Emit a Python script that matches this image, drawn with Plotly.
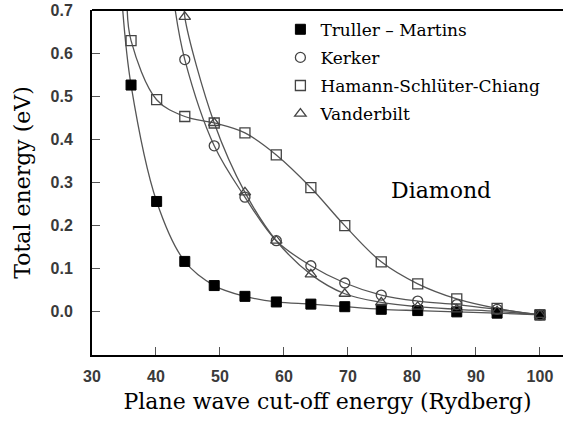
import plotly.graph_objects as go

# cut-off energies (Rydberg)
cutoff = [36.1, 40.1, 44.5, 49.1, 53.9, 58.8, 64.2, 69.5, 75.2, 80.9, 87.0, 93.3, 100.0]

tm_x = cutoff
tm_y = [0.526, 0.256, 0.117, 0.061, 0.036, 0.023, 0.018, 0.012, 0.006, 0.003, 0.000, -0.003, -0.007]

hsc_x = cutoff
hsc_y = [0.629, 0.492, 0.453, 0.438, 0.415, 0.364, 0.288, 0.200, 0.116, 0.065, 0.030, 0.008, -0.007]

kerker_x = cutoff[2:]
kerker_y = [0.585, 0.385, 0.266, 0.165, 0.107, 0.067, 0.039, 0.025, 0.017, 0.006, -0.007]

vdb_x = cutoff[2:]
vdb_y = [0.684, 0.438, 0.277, 0.165, 0.087, 0.042, 0.022, 0.012, 0.006, 0.001, -0.007]

# where each fitted curve leaves the top of the frame
tm_top = (34.8, 0.70)
hsc_top = (35.5, 0.70)
kerker_top = (43.0, 0.70)
vdb_top = (44.45, 0.72)

names = ["Truller – Martins", "Kerker", "Hamann-Schlüter-Chiang", "Vanderbilt"]

SANS = "Arial, Liberation Sans, sans-serif"
SERIF = "DejaVu Serif"

series = [
    (names[0], tm_x, tm_y, tm_top, "square", True),
    (names[1], kerker_x, kerker_y, kerker_top, "circle-open", False),
    (names[2], hsc_x, hsc_y, hsc_top, "square-open", False),
    (names[3], vdb_x, vdb_y, vdb_top, "triangle-up-open", False),
]

fig = go.Figure()

for name, xs, ys, top, sym, filled in series:
    fig.add_trace(go.Scatter(
        x=[top[0]] + list(xs), y=[top[1]] + list(ys),
        mode="lines", line=dict(color="#555555", width=1.3, shape="spline", smoothing=1.0),
        showlegend=False, hoverinfo="skip",
    ))

for i, (name, xs, ys, top, sym, filled) in enumerate(series):
    if filled:
        marker = dict(symbol=sym, size=10, color="black", line=dict(color="black", width=1))
    else:
        marker = dict(symbol=sym, size=10, color="#444444", line=dict(color="#444444", width=1.3))
    fig.add_trace(go.Scatter(
        x=xs, y=ys, mode="markers", name=name, marker=marker, cliponaxis=False,
        legendgroup=f"g{i}",
    ))

fig.update_layout(
    width=563, height=427,
    margin=dict(l=92, r=0, t=10, b=72),
    paper_bgcolor="white", plot_bgcolor="white",
    font=dict(family=SERIF, color="black"),
    showlegend=True,
    legend=dict(
        x=0.40, y=0.995, xanchor="left", yanchor="top",
        font=dict(family=SERIF, size=17, color="black"),
        bgcolor="rgba(0,0,0,0)", tracegroupgap=3, itemsizing="trace",
    ),
    annotations=[dict(
        text="Diamond", x=0.741, y=0.478, xref="paper", yref="paper",
        xanchor="center", yanchor="middle",
        showarrow=False, font=dict(family=SERIF, size=22, color="black"),
    )],
)

fig.update_xaxes(
    range=[30, 103.6], tickvals=[30, 40, 50, 60, 70, 80, 90, 100],
    ticks="inside", ticklen=8, tickwidth=1, tickcolor="#555555",
    showline=True, linecolor="black", linewidth=2, mirror=False,
    showgrid=False, zeroline=False,
    tickfont=dict(family=SANS, size=16, color="#3a3a3a", weight="bold"),
    ticklabelstandoff=6,
    title=dict(text="Plane wave cut-off energy (Rydberg)",
               font=dict(family=SERIF, size=22, color="black"), standoff=9),
)
fig.update_yaxes(
    range=[-0.1, 0.7], tickvals=[0.0, 0.1, 0.2, 0.3, 0.4, 0.5, 0.6, 0.7],
    ticktext=["0.0", "0.1", "0.2", "0.3", "0.4", "0.5", "0.6", "0.7"],
    ticks="inside", ticklen=8, tickwidth=1, tickcolor="#555555",
    showline=True, linecolor="black", linewidth=2, mirror=False,
    showgrid=False, zeroline=False,
    tickfont=dict(family=SANS, size=16, color="#3a3a3a", weight="bold"),
    ticklabelstandoff=14,
    title=dict(text="Total energy (eV)",
               font=dict(family=SERIF, size=22, color="black"), standoff=14),
)

fig.add_shape(type="line", xref="paper", yref="paper", x0=0, x1=1, y0=1, y1=1,
              line=dict(color="black", width=2))

fig.write_html("out.html")
